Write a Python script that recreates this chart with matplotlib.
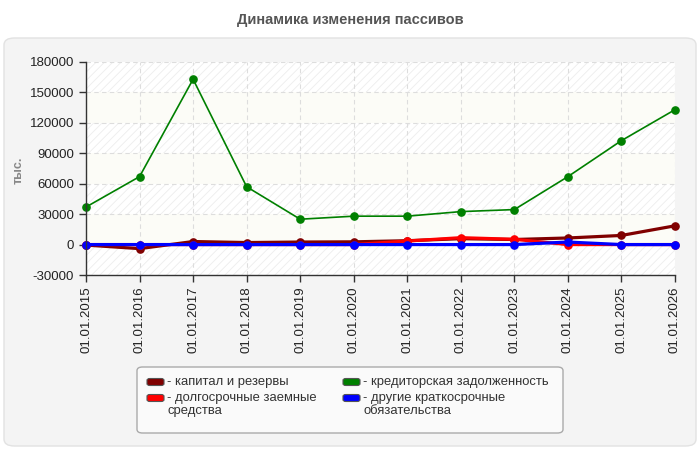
import matplotlib
matplotlib.use('Agg')
import numpy as np
import matplotlib.pyplot as plt
from matplotlib.patches import FancyBboxPatch

plt.rcParams['font.family'] = ['Liberation Sans', 'DejaVu Sans']
plt.rcParams['hatch.linewidth'] = 0.6

# data
dates = ['01.01.2015', '01.01.2016', '01.01.2017', '01.01.2018', '01.01.2019', '01.01.2020',
         '01.01.2021', '01.01.2022', '01.01.2023', '01.01.2024', '01.01.2025', '01.01.2026']
capital = [-500, -4000, 3000, 2000, 2500, 2700, 3800, 5800, 5000, 6500, 9000, 18500]
long_loans = [0, 0, 0, 0, 0, 0, 3500, 6800, 5200, 0, 0, 0]
payables = [37000, 67000, 163000, 57000, 25000, 28000, 28000, 32500, 34500, 67000, 102500, 133000]
other_short = [0, 0, 0, 0, 0, 0, 0, 0, 0, 2500, 0, 0]

labels = ['- капитал и резервы', '- долгосрочные заемные\nсредства',
          '- кредиторская задолженность', '- другие краткосрочные\nобязательства']
colors = ['#800000', '#ff0000', '#008000', '#0000ff']

yticks = np.arange(-30000, 180001, 30000)

fig = plt.figure(figsize=(7, 4.5), dpi=100)
fig.patch.set_facecolor('white')

# rounded grey panel behind the chart
panel = FancyBboxPatch((4 / 700, 4 / 450), 692 / 700, 408 / 450,
                       boxstyle='round,pad=0,rounding_size=0.015',
                       transform=fig.transFigure, facecolor='#f4f4f4',
                       edgecolor='#e2e2e2', linewidth=1, zorder=-5)
fig.patches.append(panel)

fig.text(0.5, 1 - 20 / 450, 'Динамика изменения пассивов', ha='center', va='center',
         fontsize=10.5, fontweight='bold', color='#555555')

ax = fig.add_axes([86 / 700, 1 - 275 / 450, 589 / 700, 213 / 450])
ax.set_zorder(1)
ax.set_facecolor('white')
x = np.arange(len(dates))

# alternating bands
for i, (lo, hi) in enumerate(zip(yticks[:-1], yticks[1:])):
    if i % 2 == 0:
        ax.axhspan(lo, hi, facecolor='white', hatch='////', edgecolor='#ededed',
                   linewidth=0, zorder=0)
    else:
        ax.axhspan(lo, hi, facecolor='#fcfcf7', linewidth=0, zorder=0)

series = [long_loans, capital, payables, other_short]
order = [1, 0, 2, 3]
for idx, vals in zip(order, series):
    lw = 1.2 if idx == 2 else 2.3
    ax.plot(x, vals, color=colors[idx], lw=lw, marker='o', markersize=5.2,
            zorder=3 + idx, clip_on=False)

ax.set_xlim(0, len(dates) - 1)
ax.set_ylim(-30000, 180000)
ax.set_yticks(yticks)
ax.set_yticklabels([str(v) for v in yticks])
ax.set_xticks(x)
ax.set_xticklabels(dates, rotation=90)
ax.tick_params(axis='both', labelsize=9.5, colors='#333333', labelcolor='#222222',
               length=5, width=1)
ax.grid(True, color='#dddddd', linestyle=(0, (4, 3)), linewidth=0.8, zorder=1)
ax.set_axisbelow(False)
for s in ['top', 'right']:
    ax.spines[s].set_visible(False)
for s in ['left', 'bottom']:
    ax.spines[s].set_color('#333333')
    ax.spines[s].set_linewidth(1)
    ax.spines[s].set_zorder(10)

fig.text(19 / 700, 1 - 170 / 450, 'тыс.', rotation=90, ha='center', va='center',
         fontsize=9, fontweight='bold', color='#888888')

# legend drawn by hand
box = FancyBboxPatch((137 / 700, 1 - 433 / 450), 426 / 700, 66 / 450,
                     boxstyle='round,pad=0,rounding_size=0.008',
                     transform=fig.transFigure, facecolor='#fafafa',
                     edgecolor='#aaaaaa', linewidth=1, zorder=2)
fig.patches.append(box)
pos = [(147, 382), (147, 398), (343, 382), (343, 398)]
for (px, py), lab, col in zip(pos, labels, colors):
    h = FancyBboxPatch((px / 700, 1 - (py + 3.5) / 450), 17 / 700, 7 / 450,
                       boxstyle='round,pad=0,rounding_size=0.004',
                       transform=fig.transFigure, facecolor=col,
                       edgecolor='#555555', linewidth=0.8, zorder=3)
    fig.patches.append(h)
    fig.text((px + 20) / 700, 1 - (py - 6) / 450, lab, ha='left', va='top',
             fontsize=9.4, color='#333333', linespacing=1.12, zorder=4)

fig.savefig('out.png', dpi=100)
